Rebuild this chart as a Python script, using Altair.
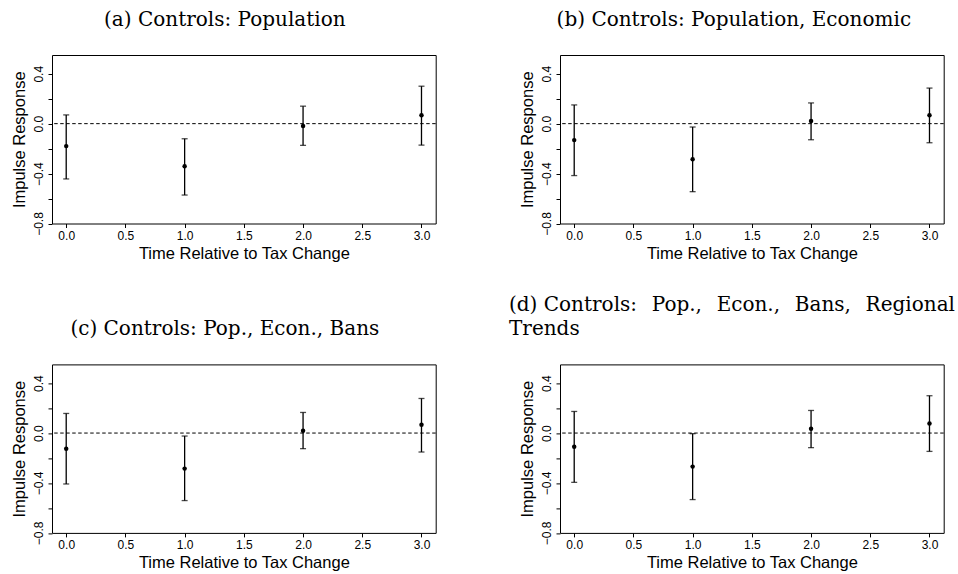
import altair as alt
import pandas as pd

times = [0, 1, 2, 3]

est_a = [-0.180, -0.341, -0.019, 0.067]
lo_a = [-0.443, -0.572, -0.174, -0.172]
hi_a = [0.070, -0.121, 0.140, 0.300]

est_b = [-0.132, -0.285, 0.021, 0.067]
lo_b = [-0.416, -0.545, -0.129, -0.153]
hi_b = [0.150, -0.027, 0.166, 0.285]

est_c = [-0.125, -0.285, 0.019, 0.067]
lo_c = [-0.408, -0.541, -0.125, -0.152]
hi_c = [0.157, -0.024, 0.165, 0.277]

est_d = [-0.109, -0.269, 0.035, 0.077]
lo_d = [-0.395, -0.533, -0.117, -0.147]
hi_d = [0.173, -0.005, 0.181, 0.299]

title_a = "(a) Controls: Population"
title_b = "(b) Controls: Population, Economic"
title_c = "(c) Controls: Pop., Econ., Bans"
title_d = ["(d) Controls:\u00a0\u200a Pop.,\u00a0\u200a Econ.,\u00a0\u200a Bans,\u00a0\u200a Regional", "Trends"]

x_ticks = [0, 0.5, 1, 1.5, 2, 2.5, 3]
y_ticks = [-0.8, -0.6, -0.4, -0.2, 0.0, 0.2, 0.4]
x_title = "Time Relative to Tax Change"
y_title = "Impulse Response"

W, H = 383.7, 168.5

xs = alt.Scale(domain=[-0.12, 3.12], nice=False, zero=False)
ys = alt.Scale(domain=[-0.8, 0.55], nice=False, zero=False)
xax = alt.Axis(values=x_ticks, format=".1f", title=x_title, labelPadding=3, titlePadding=4)
yax = alt.Axis(values=y_ticks, format=".1f", title=y_title, labelAngle=270,
               labelExpr="(round(datum.value*10) % 4 == 0) ? datum.label : ''",
               labelPadding=3, titlePadding=5)


def panel(est, lo, hi, title, anchor="middle", dx=-19):
    df = pd.DataFrame({"t": times, "est": est, "lo": lo, "hi": hi})
    zdf = pd.DataFrame({"z": [0.0]})
    base = alt.Chart(df)
    X = alt.X("t:Q", scale=xs, axis=xax)
    bars = base.mark_rule(color="black", strokeWidth=1.3).encode(
        x=X, y=alt.Y("lo:Q", scale=ys, axis=yax), y2="hi:Q")
    cap_lo = base.mark_tick(color="black", orient="horizontal", size=6, thickness=1.3).encode(
        x=X, y=alt.Y("lo:Q", scale=ys, axis=yax))
    cap_hi = base.mark_tick(color="black", orient="horizontal", size=6, thickness=1.3).encode(
        x=X, y=alt.Y("hi:Q", scale=ys, axis=yax))
    pts = base.mark_circle(color="black", opacity=1, size=20).encode(
        x=X, y=alt.Y("est:Q", scale=ys, axis=yax))
    zero = alt.Chart(zdf).mark_rule(color="black", strokeDash=[3.5, 2.5], strokeWidth=1).encode(
        y=alt.Y("z:Q", scale=ys, axis=yax))
    return alt.layer(bars, cap_lo, cap_hi, pts, zero).properties(
        width=W, height=H,
        title=alt.TitleParams(text=title, anchor=anchor, dx=dx, offset=25, lineHeight=24))


pa = panel(est_a, lo_a, hi_a, title_a)
pb = panel(est_b, lo_b, hi_b, title_b, dx=-18)
pc = panel(est_c, lo_c, hi_c, title_c)
pd_ = panel(est_d, lo_d, hi_d, title_d, anchor="start", dx=-10)

chart = alt.concat(pa, pb, pc, pd_, columns=2, bounds="flush",
                   spacing=alt.RowColnumber(row=140.4, column=124)).properties(
    padding={"left": 10, "top": 9, "right": 0, "bottom": 0}
).configure_view(
    stroke="black", strokeWidth=1
).configure_axis(
    labelFont="Liberation Sans", labelFontSize=12, labelColor="black",
    titleFont="Liberation Sans", titleFontSize=16.5, titleFontWeight="normal", titleColor="black",
    tickColor="black", tickSize=4, tickWidth=1, domain=False, grid=False
).configure_title(
    font="DejaVu Serif", fontSize=20, fontWeight="normal", color="black"
)

chart.save("out.html", embed_options={"renderer": "svg", "actions": False})
